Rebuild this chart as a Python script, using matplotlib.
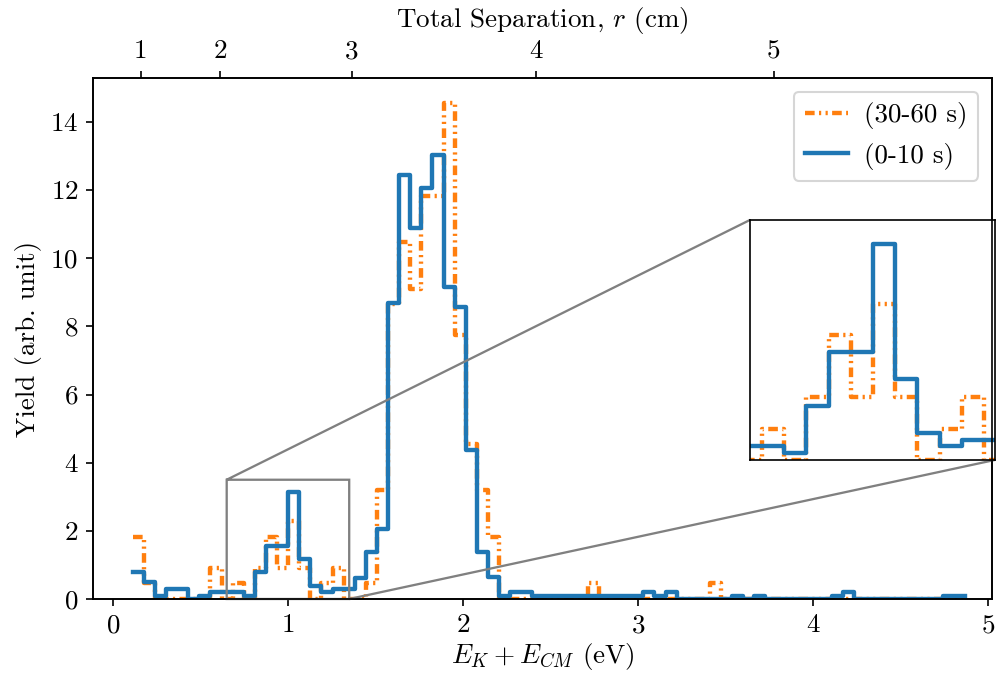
import numpy as np
import matplotlib
matplotlib.use("Agg")
import matplotlib.pyplot as plt

plt.rcParams['font.family'] = 'serif'
plt.rcParams['font.serif'] = ['cmr10']
plt.rcParams['mathtext.fontset'] = 'cm'
plt.rcParams['axes.formatter.use_mathtext'] = True
plt.rcParams['font.size'] = 13

# histogram bins (eV)
bin_start = 0.113
bin_width = 0.06343
n_bins = 75
edges = bin_start + bin_width * np.arange(n_bins + 1)

# yield, 0-10 s
early = [0.78, 0.49, 0.10, 0.29, 0.29, 0.00, 0.10, 0.20, 0.20, 0.20,
         0.10, 0.78, 1.57, 1.57, 3.15, 1.18, 0.39, 0.20, 0.29, 0.29,
         0.61, 1.37, 2.06, 8.68, 12.45, 10.88, 12.05, 13.03, 9.17, 8.58,
         4.37, 1.37, 0.65, 0.10, 0.20, 0.20, 0.10, 0.10, 0.10, 0.10,
         0.10, 0.10, 0.10, 0.10, 0.10, 0.10, 0.20, 0.10, 0.20, 0.00,
         0.00, 0.00, 0.00, 0.00, 0.10, 0.00, 0.10, 0.00, 0.00, 0.00,
         0.00, 0.00, 0.00, 0.10, 0.20, 0.00, 0.00, 0.00, 0.00, 0.00,
         0.00, 0.00, 0.00, 0.10, 0.10]

# yield, 30-60 s
late = [1.82, 0.455, 0, 0, 0, 0, 0, 0.91, 0, 0.455,
        0, 0.91, 1.82, 0.91, 2.28, 0.91, 0, 0.455, 0.91, 0,
        0, 0.455, 3.19, 8.65, 10.47, 9.10, 11.83, 11.83, 14.56, 7.74,
        4.55, 3.19, 1.82, 0, 0, 0, 0, 0, 0, 0,
        0, 0.455, 0, 0, 0, 0, 0, 0, 0, 0,
        0, 0, 0.455, 0, 0, 0, 0, 0, 0, 0,
        0, 0, 0, 0, 0, 0, 0, 0, 0, 0,
        0, 0, 0, 0, 0]

# top axis: separation r (cm) -> energy (eV)
r_ticks = [1, 2, 3, 4, 5]
r_coef, r_off = 0.1507, 0.009

orange = '#ff7f0e'
blue = '#1f77b4'
dashdotdot = (0, (2.2, 1, 0.5, 1, 0.5, 1))
lw = 2.1


def draw(ax, label=True):
    ax.plot(edges, np.append(late, late[-1]), drawstyle='steps-post', color=orange,
            lw=lw, linestyle=dashdotdot, label='(30-60 s)' if label else None)
    ax.plot(edges, np.append(early, early[-1]), drawstyle='steps-post', color=blue,
            lw=lw, label='(0-10 s)' if label else None)


fig = plt.figure(figsize=(1001 / 150, 682 / 150), dpi=150)
ax = fig.add_axes([93 / 1001, 1 - 599 / 682, 899 / 1001, 521 / 682])
draw(ax)
ax.set_xlim(-0.114, 5.023)
ax.set_ylim(0, 15.29)
ax.set_yticks(np.arange(0, 15, 2))
ax.set_xticks(range(6))
ax.set_xlabel(r'$E_K + E_{CM}$ (eV)', labelpad=2)
ax.set_ylabel('Yield (arb. unit)')
ax.legend(loc='upper right', handlelength=1.6, handletextpad=0.6)

top = ax.twiny()
top.set_xlim(ax.get_xlim())
top.set_xticks([r_coef * r**2 + r_off for r in r_ticks], [str(r) for r in r_ticks])
top.set_xlabel(r'Total Separation, $r$ (cm)', labelpad=6)

# zoomed inset
axins = ax.inset_axes([0.731, 0.267, 0.2725, 0.4607])
draw(axins, label=False)
axins.set_xlim(0.65, 1.35)
axins.set_ylim(0, 3.5)
axins.set_xticks([])
axins.set_yticks([])
ind = ax.indicate_inset_zoom(axins, edgecolor='gray', alpha=1, linewidth=1.1)
for i, c in enumerate(ind.connectors):
    c.set_visible(i in (1, 2))
    c.set_edgecolor('gray')
    c.set_alpha(1)

fig.savefig('out.png', dpi=150)
